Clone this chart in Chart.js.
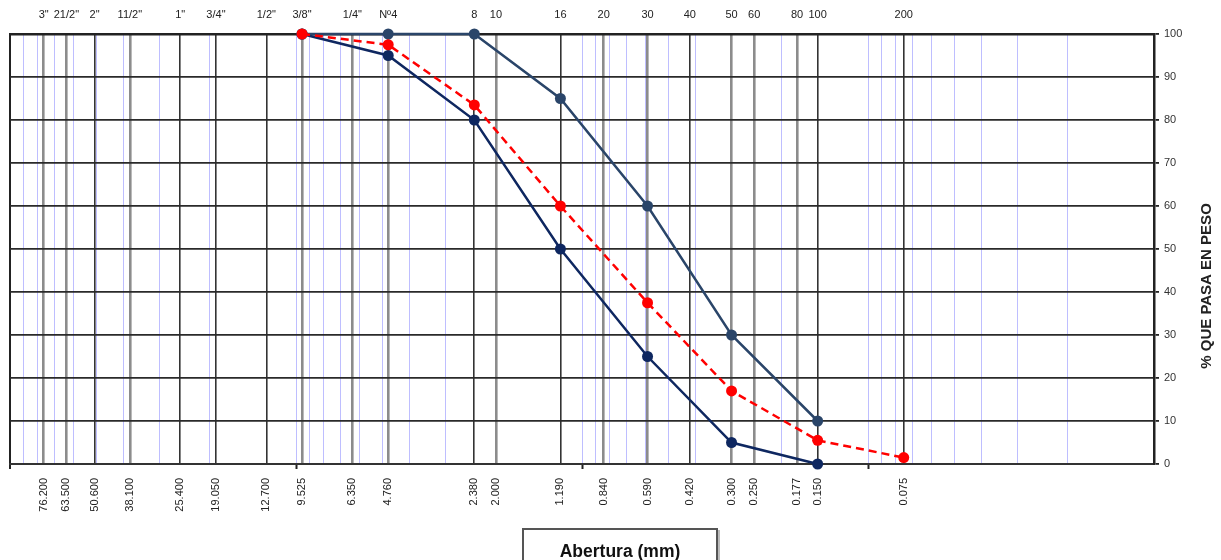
<!DOCTYPE html>
<html lang="es">
<head>
<meta charset="utf-8">
<title>Curva granulométrica</title>
<script src="https://cdn.jsdelivr.net/npm/chart.js@4.4.0/dist/chart.umd.min.js"></script>
<style>
  html, body { margin: 0; padding: 0; background: #fff; overflow: hidden; }
  #wrap { position: relative; width: 1221px; height: 560px; }
  #abertura {
    position: absolute; left: 522px; top: 528px; width: 192px; height: 40px;
    border: 2px solid #555; box-shadow: 2px 2px 0 #bbb; background: #fff;
    font: bold 17.5px "Liberation Sans", Arial, sans-serif; color: #111;
    text-align: center; line-height: 42px;
  }
</style>
</head>
<body>
<div id="wrap">
  <canvas id="curva" width="1221" height="560"></canvas>
  <div id="abertura">Abertura (mm)</div>
</div>
<script>
// Tamices: nombre arriba, abertura en mm abajo
const sieveNames = ['3"', '21/2"', '2"', '11/2"', '1"', '3/4"', '1/2"', '3/8"', '1/4"', 'Nº4',
  '8', '10', '16', '20', '30', '40', '50', '60', '80', '100', '200'];
const sieveOpenings = [76.2, 63.5, 50.6, 38.1, 25.4, 19.05, 12.7, 9.525, 6.35, 4.76,
  2.38, 2.0, 1.19, 0.84, 0.59, 0.42, 0.30, 0.25, 0.177, 0.15, 0.075];
const openingLabels = ['76.200', '63.500', '50.600', '38.100', '25.400', '19.050', '12.700', '9.525', '6.350', '4.760',
  '2.380', '2.000', '1.190', '0.840', '0.590', '0.420', '0.300', '0.250', '0.177', '0.150', '0.075'];

// Huso granulométrico (límites) y muestra ensayada
const limitSizes = [9.525, 4.76, 2.38, 1.19, 0.59, 0.30, 0.15];
const upperLimit = [100, 100, 100, 85, 60, 30, 10];
const lowerLimit = [100, 95, 80, 50, 25, 5, 0];
const sampleSizes = [9.525, 4.76, 2.38, 1.19, 0.59, 0.30, 0.15, 0.075];
const samplePassing = [100, 97.5, 83.5, 60, 37.5, 17, 5.5, 1.5];

const yTicks = [0, 10, 20, 30, 40, 50, 60, 70, 80, 90, 100];

// tamices con línea oscura fina; el resto va en gris más grueso
const darkSieves = [50.6, 25.4, 19.05, 12.7, 2.38, 1.19, 0.42, 0.15, 0.075];
const decades = [100, 10, 1, 0.1];

const FONT = '"Liberation Sans", Arial, sans-serif';
const same = (a, b) => Math.abs(a - b) < 1e-9;
const sieveIndex = v => sieveOpenings.findIndex(s => same(s, v));

// rejilla logarítmica 1..9 x 10^n
const logGrid = [];
for (let e = -2; e <= 1; e++) {
  for (let k = 1; k <= 9; k++) logGrid.push(+(k * Math.pow(10, e)).toPrecision(3));
}
logGrid.push(100);

const bottomValues = logGrid.slice();
sieveOpenings.forEach(v => { if (!bottomValues.some(g => same(g, v))) bottomValues.push(v); });
bottomValues.sort((a, b) => a - b);

const pts = (xs, ys) => xs.map((x, i) => ({ x: x, y: ys[i] }));

function lineColor(v) {
  if (same(v, 100)) return '#222';
  const i = sieveIndex(v);
  if (i < 0) return 'rgba(110,110,255,0.45)';
  return darkSieves.some(d => same(d, v)) ? '#333' : '#8c8c8c';
}
function lineWidth(v) {
  if (same(v, 100)) return 2;
  const i = sieveIndex(v);
  if (i < 0) return 1;
  return darkSieves.some(d => same(d, v)) ? 1.6 : 2.6;
}

const yTitle = {
  id: 'yTitle',
  afterDraw(chart) {
    const { ctx, chartArea } = chart;
    ctx.save();
    ctx.translate(chartArea.right + 53, 286);
    ctx.rotate(-Math.PI / 2);
    ctx.font = 'bold 15px ' + FONT;
    ctx.fillStyle = '#222';
    ctx.textAlign = 'center';
    ctx.textBaseline = 'middle';
    ctx.fillText('% QUE PASA EN PESO', 0, 0);
    ctx.restore();
  }
};

new Chart(document.getElementById('curva'), {
  type: 'line',
  data: {
    datasets: [
      {
        label: 'Muestra',
        data: pts(sampleSizes, samplePassing),
        borderColor: '#ff0000',
        backgroundColor: '#ff0000',
        borderWidth: 2.5,
        borderDash: [8, 5],
        pointRadius: 5.5,
        pointBorderWidth: 0,
        clip: false,
        order: 0
      },
      {
        label: 'Límite superior',
        data: pts(limitSizes, upperLimit),
        borderColor: '#2a4569',
        backgroundColor: '#2a4569',
        borderWidth: 2.5,
        pointRadius: 5.5,
        pointBorderWidth: 0,
        clip: false,
        order: 1
      },
      {
        label: 'Límite inferior',
        data: pts(limitSizes, lowerLimit),
        borderColor: '#0e2760',
        backgroundColor: '#0e2760',
        borderWidth: 2.5,
        pointRadius: 5.5,
        pointBorderWidth: 0,
        clip: false,
        order: 2
      }
    ]
  },
  options: {
    responsive: false,
    animation: false,
    layout: { padding: { left: 10, right: 0, top: 0, bottom: 0 } },
    plugins: { legend: { display: false }, tooltip: { enabled: false } },
    scales: {
      x: {
        type: 'logarithmic',
        position: 'bottom',
        reverse: true,
        min: 0.01,
        max: 100,
        afterBuildTicks: s => { s.ticks = bottomValues.map(v => ({ value: v })); },
        afterFit: s => { s.height = 96; },
        border: { display: true, color: '#333', width: 2 },
        grid: {
          color: c => c.tick ? lineColor(c.tick.value) : '#888',
          lineWidth: c => c.tick ? lineWidth(c.tick.value) : 1,
          tickColor: c => (c.tick && decades.some(d => same(d, c.tick.value))) ? '#222' : 'rgba(0,0,0,0)',
          tickLength: 5,
          tickWidth: 2
        },
        ticks: {
          autoSkip: false,
          minRotation: 90,
          maxRotation: 90,
          padding: 9,
          color: '#222',
          font: { family: FONT, size: 11 },
          callback: v => { const i = sieveIndex(v); return i < 0 ? '' : openingLabels[i]; }
        }
      },
      xTop: {
        type: 'logarithmic',
        position: 'top',
        reverse: true,
        min: 0.01,
        max: 100,
        afterBuildTicks: s => { s.ticks = sieveOpenings.slice().sort((a, b) => a - b).map(v => ({ value: v })); },
        afterFit: s => { s.height = 34; },
        border: { display: true, color: '#222', width: 2.5 },
        grid: { drawOnChartArea: false, drawTicks: false },
        ticks: {
          autoSkip: false,
          maxRotation: 0,
          padding: 12,
          color: '#222',
          font: { family: FONT, size: 11 },
          callback: v => { const i = sieveIndex(v); return i < 0 ? '' : sieveNames[i]; }
        }
      },
      y: {
        position: 'right',
        min: 0,
        max: 100,
        afterBuildTicks: s => { s.ticks = yTicks.map(v => ({ value: v })); },
        afterFit: s => { s.width = 67; },
        border: { display: true, color: '#222', width: 2.5 },
        grid: { color: '#2a2a2a', lineWidth: 1.8, tickLength: 5, tickColor: '#222' },
        ticks: {
          padding: 5,
          color: '#333',
          font: { family: FONT, size: 11 }
        }
      }
    }
  },
  plugins: [yTitle]
});
</script>
</body>
</html>
